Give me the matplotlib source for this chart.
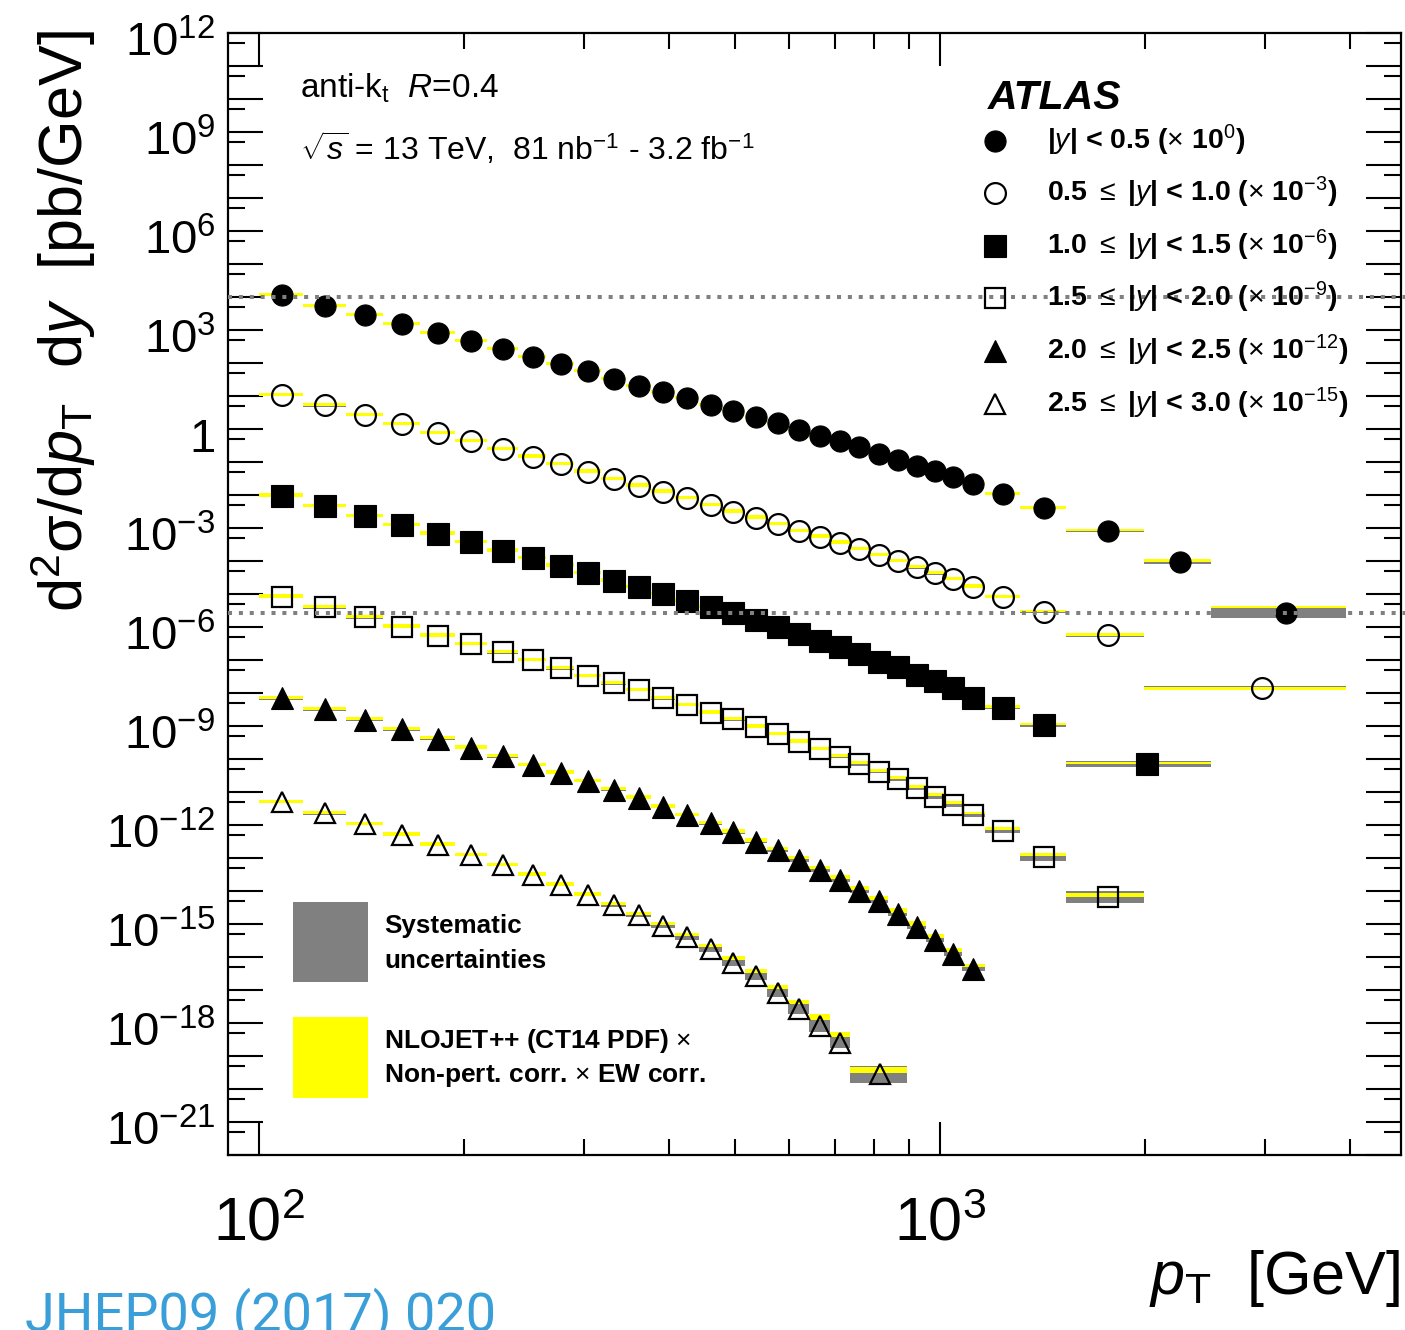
import numpy as np
import matplotlib
matplotlib.use("Agg")
import matplotlib.pyplot as plt
from matplotlib.lines import Line2D
from matplotlib.patches import Rectangle
from matplotlib.transforms import ScaledTranslation
from matplotlib.ticker import FixedLocator, FuncFormatter, NullFormatter

plt.rcParams['font.family'] = ['Liberation Sans', 'DejaVu Sans']
plt.rcParams['mathtext.fontset'] = 'custom'
plt.rcParams['mathtext.rm'] = 'Liberation Sans'
plt.rcParams['mathtext.it'] = 'Liberation Sans:italic'
plt.rcParams['mathtext.bf'] = 'Liberation Sans:bold'
plt.rcParams['mathtext.sf'] = 'Liberation Sans'

# ---------------- data ----------------
pt_edges = [100, 116, 134, 152, 172, 194, 216, 240, 264, 290, 318, 346, 376, 408, 442, 478,
            516, 556, 598, 642, 688, 736, 786, 838, 894, 952, 1012, 1076, 1162, 1310, 1530,
            1992, 2500, 3937]

edges_y0 = pt_edges
edges_y1 = pt_edges[:32] + [3937]
edges_y2 = pt_edges[:31] + [2500]
edges_y3 = pt_edges[:32]
edges_y4 = pt_edges[:29]
edges_y5 = pt_edges[:22] + [894]

# measured cross sections d2sigma/dpT dy [pb/GeV] (unscaled)
xs_y0 = [1.15e4, 5.33e3, 2.85e3, 1.52e3, 811, 464, 266, 152, 93.3, 57.3, 32.7, 20.1, 13.2,
         8.69, 5.33, 3.51, 2.31, 1.52, 0.933, 0.614, 0.433, 0.285, 0.175, 0.115, 0.0757,
         0.0533, 0.0351, 0.0215, 0.0107, 4.04e-3, 8.11e-4, 9.33e-5, 2.66e-6]
xs_y1 = [1.07e4, 5.22e3, 2.65e3, 1.42e3, 757, 424, 243, 145, 86.9, 50.8, 30.5, 19.1, 12.6,
         7.94, 4.98, 3.12, 2.05, 1.29, 0.811, 0.545, 0.359, 0.231, 0.152, 0.100, 0.0644,
         0.0424, 0.0285, 0.0166, 8.28e-3, 2.91e-3, 5.73e-4, 1.45e-5]
xs_y2 = [9.53e3, 4.64e3, 2.31e3, 1.23e3, 671, 369, 205, 121, 72.1, 42.4, 25.3, 16.0, 10.0,
         6.27, 3.95, 2.60, 1.63, 1.02, 0.614, 0.377, 0.243, 0.152, 0.0887, 0.0601, 0.0351,
         0.0236, 0.0139, 6.90e-3, 3.59e-3, 1.07e-3, 7.05e-5]
xs_y3 = [8.28e3, 3.95e3, 1.97e3, 1.02e3, 545, 305, 171, 100, 56.0, 32.7, 19.7, 12.3, 6.90,
         4.33, 2.53, 1.60, 0.953, 0.573, 0.334, 0.201, 0.117, 0.0705, 0.0412, 0.0243, 0.0129,
         7.21e-3, 4.04e-3, 2.01e-3, 6.81e-4, 1.05e-4, 6.71e-6]
xs_y4 = [6.95e3, 3.21e3, 1.57e3, 794, 418, 220, 122, 65.8, 38.5, 21.5, 11.9, 6.76, 3.56,
         2.01, 1.13, 0.593, 0.316, 0.171, 0.0869, 0.0427, 0.0215, 0.0101, 4.81e-3, 1.98e-3,
         8.00e-4, 3.23e-4, 1.22e-4, 4.39e-5]
xs_y5 = [4.98e3, 2.26e3, 1.07e3, 508, 253, 123, 61.4, 31.2, 15.5, 7.73, 3.77, 1.84, 0.881,
         0.390, 0.171, 0.0681, 0.0262, 8.39e-3, 2.71e-3, 8.28e-4, 2.56e-4, 2.79e-5]

# relative systematic uncertainty (grey band)
sys_y0 = [0.10, 0.09, 0.08, 0.08, 0.07, 0.07, 0.07, 0.07, 0.07, 0.07, 0.07, 0.07, 0.07, 0.07,
          0.07, 0.07, 0.07, 0.07, 0.07, 0.07, 0.08, 0.08, 0.08, 0.08, 0.08, 0.09, 0.09, 0.09,
          0.10, 0.10, 0.11, 0.14, 0.42]
sys_y1 = [0.10, 0.09, 0.08, 0.08, 0.07, 0.07, 0.07, 0.07, 0.07, 0.07, 0.07, 0.07, 0.07, 0.07,
          0.07, 0.08, 0.08, 0.08, 0.08, 0.08, 0.08, 0.09, 0.09, 0.09, 0.09, 0.10, 0.10, 0.10,
          0.11, 0.11, 0.12, 0.14]
sys_y2 = [0.10, 0.09, 0.08, 0.08, 0.08, 0.08, 0.08, 0.08, 0.08, 0.08, 0.08, 0.08, 0.08, 0.08,
          0.08, 0.09, 0.09, 0.09, 0.09, 0.09, 0.10, 0.10, 0.10, 0.11, 0.11, 0.11, 0.12, 0.12,
          0.12, 0.13, 0.20]
sys_y3 = [0.10, 0.10, 0.09, 0.09, 0.09, 0.09, 0.09, 0.09, 0.09, 0.09, 0.09, 0.09, 0.10, 0.10,
          0.10, 0.10, 0.10, 0.10, 0.10, 0.10, 0.11, 0.12, 0.12, 0.13, 0.14, 0.15, 0.15, 0.16,
          0.17, 0.27, 0.52]
sys_y4 = [0.10, 0.10, 0.10, 0.10, 0.10, 0.10, 0.10, 0.10, 0.10, 0.10, 0.10, 0.10, 0.10, 0.10,
          0.11, 0.11, 0.12, 0.12, 0.13, 0.13, 0.14, 0.14, 0.15, 0.15, 0.16, 0.17, 0.17, 0.17]
sys_y5 = [0.10, 0.10, 0.10, 0.10, 0.10, 0.10, 0.10, 0.10, 0.10, 0.10, 0.12, 0.15, 0.18, 0.20,
          0.22, 0.25, 0.30, 0.35, 0.40, 0.50, 0.50, 0.80]

# NLO prediction / data ratio and its relative uncertainty (yellow band)
nlo_ratio_y0 = [1.05, 1.05, 1.05, 1.05, 1.05, 1.05, 1.05, 1.05, 1.05, 1.05, 1.05, 1.05, 1.05,
                1.05, 1.05, 1.05, 1.05, 1.05, 1.05, 1.05, 1.05, 1.05, 1.05, 1.05, 1.05, 1.05,
                1.05, 1.05, 1.05, 1.05, 1.06, 1.12, 1.50]
nlo_unc_y0 = [0.12, 0.12, 0.12, 0.12, 0.12, 0.12, 0.12, 0.12, 0.12, 0.12, 0.12, 0.12, 0.12,
              0.12, 0.12, 0.12, 0.12, 0.12, 0.12, 0.12, 0.12, 0.12, 0.12, 0.12, 0.12, 0.12,
              0.12, 0.12, 0.11, 0.10, 0.09, 0.10, 0.09]
nlo_ratio_y1 = [1.05, 1.05, 1.05, 1.05, 1.05, 1.05, 1.05, 1.05, 1.05, 1.05, 1.05, 1.05, 1.05,
                1.05, 1.05, 1.05, 1.05, 1.05, 1.05, 1.05, 1.05, 1.05, 1.05, 1.05, 1.05, 1.05,
                1.05, 1.05, 1.04, 1.04, 1.04, 0.93]
nlo_unc_y1 = [0.12, 0.12, 0.12, 0.12, 0.12, 0.12, 0.12, 0.12, 0.12, 0.12, 0.12, 0.12, 0.12,
              0.12, 0.12, 0.12, 0.12, 0.12, 0.12, 0.12, 0.12, 0.12, 0.12, 0.12, 0.12, 0.12,
              0.12, 0.12, 0.11, 0.10, 0.10, 0.10]
nlo_ratio_y2 = [1.05, 1.05, 1.05, 1.05, 1.05, 1.05, 1.05, 1.05, 1.05, 1.05, 1.05, 1.05, 1.05,
                1.05, 1.05, 1.05, 1.05, 1.05, 1.05, 1.05, 1.05, 1.05, 1.05, 1.06, 1.06, 1.06,
                1.07, 1.07, 1.08, 1.08, 1.09]
nlo_unc_y2 = [0.12, 0.12, 0.12, 0.12, 0.12, 0.12, 0.12, 0.12, 0.12, 0.12, 0.12, 0.12, 0.12,
              0.12, 0.12, 0.12, 0.12, 0.12, 0.12, 0.12, 0.12, 0.12, 0.12, 0.12, 0.12, 0.12,
              0.11, 0.10, 0.09, 0.08, 0.08]
nlo_ratio_y3 = [1.05, 1.05, 1.05, 1.05, 1.05, 1.05, 1.05, 1.05, 1.05, 1.05, 1.05, 1.05, 1.05,
                1.05, 1.05, 1.05, 1.05, 1.05, 1.05, 1.05, 1.08, 1.10, 1.10, 1.12, 1.12, 1.15,
                1.15, 1.15, 1.15, 1.20, 1.13]
nlo_unc_y3 = [0.12, 0.12, 0.12, 0.12, 0.12, 0.12, 0.12, 0.12, 0.12, 0.12, 0.12, 0.12, 0.12,
              0.12, 0.12, 0.12, 0.12, 0.12, 0.12, 0.12, 0.12, 0.12, 0.12, 0.12, 0.12, 0.12,
              0.11, 0.10, 0.08, 0.10, 0.13]
nlo_ratio_y4 = [1.05, 1.05, 1.05, 1.05, 1.05, 1.05, 1.05, 1.05, 1.05, 1.05, 1.05, 1.05, 1.05,
                1.05, 1.08, 1.10, 1.12, 1.15, 1.18, 1.20, 1.22, 1.25, 1.28, 1.30, 1.30, 1.32,
                1.32, 1.24]
nlo_unc_y4 = [0.12, 0.12, 0.12, 0.12, 0.12, 0.12, 0.12, 0.12, 0.12, 0.12, 0.12, 0.12, 0.12,
              0.12, 0.12, 0.12, 0.12, 0.12, 0.12, 0.12, 0.13, 0.14, 0.15, 0.16, 0.17, 0.17,
              0.17, 0.12]
nlo_ratio_y5 = [1.05, 1.05, 1.05, 1.05, 1.05, 1.05, 1.05, 1.05, 1.05, 1.05, 1.10, 1.15, 1.20,
                1.25, 1.30, 1.35, 1.40, 1.50, 1.60, 1.83, 1.75, 1.35]
nlo_unc_y5 = [0.12, 0.12, 0.12, 0.12, 0.12, 0.12, 0.12, 0.12, 0.12, 0.12, 0.12, 0.12, 0.12,
              0.12, 0.13, 0.13, 0.14, 0.14, 0.15, 0.23, 0.22, 0.26]

scale_factors = [1e0, 1e-3, 1e-6, 1e-9, 1e-12, 1e-15]
ref_lines = [1.0e4, 2.7e-6]

legend_labels = [
    r"|$y$| < 0.5 ($\times$ 10$^{0}$)",
    r"0.5 $\leq$ |$y$| < 1.0 ($\times$ 10$^{-3}$)",
    r"1.0 $\leq$ |$y$| < 1.5 ($\times$ 10$^{-6}$)",
    r"1.5 $\leq$ |$y$| < 2.0 ($\times$ 10$^{-9}$)",
    r"2.0 $\leq$ |$y$| < 2.5 ($\times$ 10$^{-12}$)",
    r"2.5 $\leq$ |$y$| < 3.0 ($\times$ 10$^{-15}$)",
]
markers = ['o', 'o', 's', 's', '^', '^']
filled = [True, False, True, False, True, False]

# ---------------- figure ----------------
W, H = 1405, 1330
fig = plt.figure(figsize=(W / 100, H / 100), dpi=100)


def fx(px):
    return px / W


def fy(py):
    return 1 - py / H


ax = fig.add_axes([fx(228), fy(1155), fx(1400.5) - fx(228), fy(33) - fy(1155)])
ax.set_xscale('log')
ax.set_yscale('log')

GREY = '#808080'
YELLOW = '#ffff00'

all_edges = [edges_y0, edges_y1, edges_y2, edges_y3, edges_y4, edges_y5]
all_xs = [xs_y0, xs_y1, xs_y2, xs_y3, xs_y4, xs_y5]
all_sys = [sys_y0, sys_y1, sys_y2, sys_y3, sys_y4, sys_y5]
all_rat = [nlo_ratio_y0, nlo_ratio_y1, nlo_ratio_y2, nlo_ratio_y3, nlo_ratio_y4, nlo_ratio_y5]
all_unc = [nlo_unc_y0, nlo_unc_y1, nlo_unc_y2, nlo_unc_y3, nlo_unc_y4, nlo_unc_y5]


def marker_style(i):
    if filled[i]:
        ms = 15.2 if markers[i] != 's' else 15.4
        return dict(marker=markers[i], ms=ms, mfc='black', mec='black', mew=0.8)
    return dict(marker=markers[i], ms=15.0, mfc='none', mec='black', mew=1.6)


for i in range(6):
    e = np.array(all_edges[i], float)
    lo, hi = e[:-1], e[1:]
    w = hi - lo
    c = 0.5 * (lo + hi)
    v = np.array(all_xs[i]) * scale_factors[i]
    s = np.array(all_sys[i])
    ax.bar(lo, v * (1 + s) - v / (1 + s), width=w, bottom=v / (1 + s), align='edge',
           color=GREY, linewidth=0, zorder=2)
    t = v * np.array(all_rat[i])
    u = np.array(all_unc[i])
    ax.bar(lo, t * (1 + u) - t / (1 + u), width=w, bottom=t / (1 + u), align='edge',
           color=YELLOW, linewidth=0, zorder=3)
    ax.plot(c, v, linestyle='none', zorder=5, **marker_style(i))

for r in ref_lines:
    ax.axhline(r, xmin=0, xmax=1.004, color=GREY, lw=2.9, ls=(0, (1, 1.7)), zorder=6,
               clip_on=False)

ax.set_xlim(90, 4740)
ax.set_ylim(1e-22, 1e12)

# ticks
ax.xaxis.set_major_locator(FixedLocator([100, 1000]))
ax.xaxis.set_minor_locator(FixedLocator([200, 300, 400, 500, 600, 700, 800, 900, 2000, 3000, 4000]))
ax.xaxis.set_major_formatter(FuncFormatter(lambda v, p: r"$10^{%d}$" % round(np.log10(v))))
ax.xaxis.set_minor_formatter(NullFormatter())

ax.yaxis.set_major_locator(FixedLocator([10.0 ** k for k in range(-22, 13)]))
ax.yaxis.set_minor_locator(FixedLocator([5 * 10.0 ** k for k in range(-23, 12)]))


def yfmt(v, p):
    k = int(round(np.log10(v)))
    if k % 3 != 0 or k < -21 or k > 12:
        return ""
    if k == 0:
        return "1"
    return r"$10^{%d}$" % k


ax.yaxis.set_major_formatter(FuncFormatter(yfmt))
ax.yaxis.set_minor_formatter(NullFormatter())

ax.tick_params(which='both', direction='in', top=True, right=True, width=1.5, color='black')
ax.xaxis.set_tick_params(which='major', length=24, labelsize=44, pad=30)
ax.xaxis.set_tick_params(which='minor', length=11.5)
ax.yaxis.set_tick_params(which='major', length=25, labelsize=34, pad=9)
ax.yaxis.set_tick_params(which='minor', length=12.5)
for sp in ax.spines.values():
    sp.set_linewidth(1.6)

# ---------------- labels ----------------
fig.text(fx(63), fy(30), r"d$^{2}$σ/d$p_{\mathrm{T}}$  d$y$  [pb/GeV]", rotation=90,
         ha='center', va='top', fontsize=44)
fig.text(fx(1400), fy(1294), r"$p_{\mathrm{T}}$  [GeV]", ha='right', va='baseline', fontsize=44)
fig.text(fx(25), fy(1331), "JHEP09 (2017) 020", family='Roboto', color='#3a9fd8',
         fontsize=39, va='baseline')

fig.text(fx(300), fy(98), r"anti-k$_{\mathrm{t}}$  $R$=0.4", fontsize=24, va='baseline')
fig.text(fx(300), fy(160), r"$\sqrt{s}$ = 13 TeV,  81 nb$^{-1}$ - 3.2 fb$^{-1}$",
         fontsize=23, va='baseline')

# legend (top right)
fig.text(fx(988), fy(109), "ATLAS", fontsize=29.5, weight='bold', style='italic', va='baseline')
row_y = [141, 193, 246, 298, 351, 404]
for i in range(6):
    ln = Line2D([fx(995)], [fy(row_y[i])], transform=fig.transFigure, linestyle='none',
                **marker_style(i))
    fig.add_artist(ln)
    fig.text(fx(1047), fy(row_y[i] + 8.5), legend_labels[i], fontsize=20.5, weight='bold',
             va='baseline')

# legend (bottom left)
fig.add_artist(Rectangle((fx(293), fy(982)), fx(368) - fx(293), fy(902) - fy(982),
                         transform=fig.transFigure, color=GREY, lw=0))
fig.add_artist(Rectangle((fx(293), fy(1098)), fx(368) - fx(293), fy(1017) - fy(1098),
                         transform=fig.transFigure, color=YELLOW, lw=0))
fig.text(fx(384), fy(933), "Systematic", fontsize=18.7, weight='bold', va='baseline')
fig.text(fx(384), fy(968), "uncertainties", fontsize=18.7, weight='bold', va='baseline')
fig.text(fx(384), fy(1048), r"NLOJET++ (CT14 PDF) $\times$", fontsize=19, weight='bold',
         va='baseline')
fig.text(fx(384), fy(1082), r"Non-pert. corr. $\times$ EW corr.", fontsize=19, weight='bold',
         va='baseline')

# shift y tick labels slightly downward, as in the reference
fig.canvas.draw()
off = ScaledTranslation(0, -4.5 / 72, fig.dpi_scale_trans)
for tk in ax.yaxis.get_major_ticks():
    tk.label1.set_transform(tk.label1.get_transform() + off)

fig.savefig("out.png", dpi=100)
